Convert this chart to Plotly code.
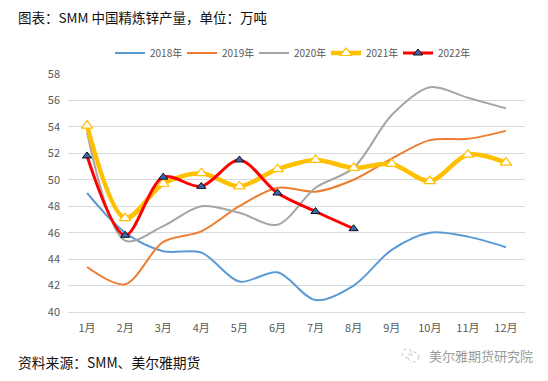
import plotly.graph_objects as go

months = ["1月","2月","3月","4月","5月","6月","7月","8月","9月","10月","11月","12月"]
y2018 = [49, 46, 44.6, 44.5, 42.3, 43, 40.9, 42, 44.7, 46, 45.7, 44.9]
y2019 = [43.4, 42.1, 45.3, 46.1, 48, 49.4, 49.1, 50, 51.6, 53, 53.1, 53.7]
y2020 = [53.6, 45.4, 46.5, 48, 47.5, 46.6, 49.4, 50.9, 54.9, 57, 56.2, 55.4]
y2021 = [54.1, 47.1, 49.7, 50.5, 49.5, 50.8, 51.5, 50.9, 51.2, 49.9, 51.9, 51.3]
y2022 = [51.8, 45.8, 50.2, 49.5, 51.5, 49, 47.6, 46.3]

FONT = "Noto Sans CJK SC, Liberation Sans, sans-serif"
PAGE = 8               # default page margin around the figure
L, T, W, H = 68 - PAGE, 74 - PAGE, 457, 238
FW, FH = 540, 373
SMOOTH = 0.9

def px(x):
    return (x - PAGE - L) / W

def py(y):
    return 1 - (y - PAGE - T) / H

fig = go.Figure()
for name, y, color in [("2018年", y2018, "#5B9BD5"), ("2019年", y2019, "#ED7D31"), ("2020年", y2020, "#A5A5A5")]:
    fig.add_trace(go.Scatter(x=months[:len(y)], y=y, name=name, mode="lines",
                             line=dict(color=color, width=2, shape="spline", smoothing=SMOOTH)))
fig.add_trace(go.Scatter(x=months, y=y2021, name="2021年", mode="lines+markers",
                         line=dict(color="#FFC000", width=4.5, shape="spline", smoothing=SMOOTH),
                         marker=dict(symbol="triangle-up", size=10, color="white", line=dict(color="#FFC000", width=1.2))))
fig.add_trace(go.Scatter(x=months[:len(y2022)], y=y2022, name="2022年", mode="lines+markers",
                         line=dict(color="#FF0000", width=3, shape="spline", smoothing=SMOOTH),
                         marker=dict(symbol="triangle-up", size=8, color="#3A66AE", line=dict(color="#111111", width=1))))

icon = dict(type="circle", xref="paper", yref="paper", line=dict(color="#BFBFBF", width=1, dash="dot"))
fig.update_layout(
    width=FW, height=FH, margin=dict(l=L, r=FW - L - W, t=T, b=FH - T - H, autoexpand=False),
    paper_bgcolor="white", plot_bgcolor="white",
    font=dict(family=FONT, size=11, color="#595959"),
    legend=dict(orientation="h", x=px(110), xanchor="left", y=py(53), yanchor="middle",
                font=dict(size=10, color="#595959"), itemwidth=30,
                entrywidth=27, entrywidthmode="pixels", bgcolor="rgba(0,0,0,0)"),
    xaxis=dict(type="category", range=[-0.5, 11.5], automargin=False, showgrid=False, zeroline=False, ticks="",
               tickfont=dict(size=11, color="#595959"), ticklabelstandoff=6,
               showline=True, linecolor="#D9D9D9", linewidth=1),
    yaxis=dict(range=[40, 58], dtick=2, automargin=False, gridcolor="#D9D9D9", gridwidth=1, zeroline=False, ticks="",
               tickfont=dict(size=11, color="#595959"), ticklabelstandoff=7, showline=False),
    annotations=[
        dict(text="图表：SMM 中国精炼锌产量，单位：万吨", xref="paper", yref="paper", x=px(17), y=py(17),
             xanchor="left", yanchor="middle", showarrow=False, xshift=-1,
             font=dict(size=13.5, color="#111111", family=FONT)),
        dict(text="资料来源：SMM、美尔雅期货", xref="paper", yref="paper", x=px(17), y=py(362),
             xanchor="left", yanchor="middle", showarrow=False, xshift=-1,
             font=dict(size=13.8, color="#111111", family=FONT)),
        dict(text="美尔雅期货研究院", xref="paper", yref="paper", x=px(428), y=py(355),
             xanchor="left", yanchor="middle", showarrow=False, xshift=-1,
             font=dict(size=13, color="#9A9A9A", family=FONT)),
    ],
    shapes=[
        dict(icon, x0=px(402), x1=px(412), y0=py(358), y1=py(349)),
        dict(icon, x0=px(408), x1=px(419), y0=py(362), y1=py(352)),
    ],
    showlegend=True,
)
fig.write_html("out.html")
